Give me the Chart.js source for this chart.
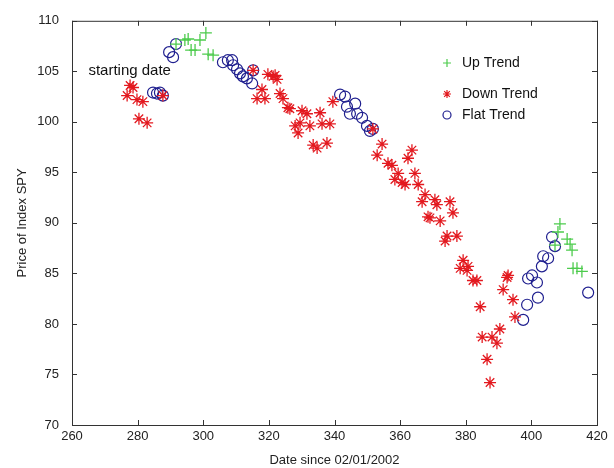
<!DOCTYPE html>
<html>
<head>
<meta charset="utf-8">
<script src="https://cdn.jsdelivr.net/npm/chart.js@4.4.1/dist/chart.umd.min.js"></script>
<style>
  html, body { margin: 0; padding: 0; background: #fff; }
  #wrap { width: 614px; height: 468px; }
</style>
</head>
<body>
<div id="wrap"><canvas id="chart" width="614" height="468"></canvas></div>
<script>
// valores
const upX = [291.7, 294.4, 295.4, 296.3, 297.5, 299.0, 300.8, 301.5, 303.0,
  408.7, 408.1, 407.2, 410.9, 411.8, 412.4, 412.7, 413.9, 415.4];
const upY = [107.7, 108.1, 108.2, 107.1, 107.1, 108.1, 108.8, 106.7, 106.6,
  89.9, 89.1, 87.8, 88.4, 87.9, 87.3, 85.5, 85.5, 85.2];

const downX = [277.7, 278.6, 276.8, 279.8, 281.6, 280.4, 282.9, 287.7,
  315.2, 319.7, 321.3, 322.5, 321.9, 317.9, 316.4, 318.8, 323.4, 324.3, 325.8, 326.4,
  330.1, 331.6, 335.6, 328.0, 328.9, 329.5, 332.5, 336.2, 338.6, 333.5, 334.7, 337.7, 339.5,
  351.7, 354.5, 353.0, 363.6, 362.4, 356.3, 357.5, 359.4, 358.4, 360.6, 361.5, 364.5, 365.5,
  367.6, 366.7, 370.6, 371.2, 375.2, 376.1, 368.5, 369.1, 372.2, 374.3, 373.7, 377.3,
  379.2, 378.3, 380.7, 380.4, 382.2, 383.4, 392.9, 392.6, 391.4, 394.4, 384.4, 395.0,
  390.4, 385.0, 388.0, 389.5, 386.5, 387.4];
const downY = [103.6, 103.4, 102.6, 102.2, 102.0, 100.3, 99.9, 102.6,
  105.1, 104.7, 104.5, 104.2, 104.6, 103.2, 102.3, 102.3, 102.8, 102.3, 101.4, 101.3,
  101.1, 100.8, 100.9, 99.6, 98.9, 99.9, 99.6, 99.8, 99.8, 97.7, 97.4, 97.9, 102.0,
  99.3, 97.8, 96.7, 97.2, 96.4, 95.9, 95.7, 94.9, 94.3, 94.0, 93.8, 94.9, 93.8,
  92.8, 92.1, 92.3, 91.8, 92.1, 91.0, 90.6, 90.5, 90.2, 88.7, 88.2, 88.7,
  86.3, 85.5, 85.7, 85.3, 84.3, 84.3, 84.8, 84.6, 83.4, 82.4, 81.7, 80.7,
  79.5, 78.7, 78.7, 78.1, 76.5, 74.2];

const flatX = [284.7, 285.9, 286.8, 287.7, 289.6, 290.8, 291.7,
  306.0, 307.5, 308.8, 309.1, 310.3, 311.2, 312.1, 313.3, 314.9, 315.2,
  341.7, 343.2, 346.3, 343.8, 344.7, 346.9, 348.4, 349.9, 350.8, 351.7,
  406.3, 407.2, 403.6, 405.1, 403.2, 399.0, 400.2, 401.7, 402.0, 398.7, 397.5, 417.3];
const flatY = [102.9, 102.8, 102.9, 102.6, 106.9, 106.4, 107.7,
  105.9, 106.1, 106.1, 105.6, 105.2, 104.8, 104.5, 104.3, 103.8, 105.1,
  102.7, 102.5, 101.8, 101.5, 100.8, 100.8, 100.4, 99.6, 99.1, 99.3,
  88.6, 87.7, 86.7, 86.5, 85.7, 84.5, 84.8, 84.1, 82.6, 81.9, 80.4, 83.1];

const xTicks = [260, 280, 300, 320, 340, 360, 380, 400, 420];
const yTicks = [70, 75, 80, 85, 90, 95, 100, 105, 110];

const seriesNames = ['Up Trend', 'Down Trend', 'Flat Trend'];
const noteText = 'starting date';
const notePos = [265, 105];

const RED = '#e3191f', GREEN = '#4ccb4c', BLUE = '#1f1f8f';
const FONT = '"Liberation Sans", Arial, sans-serif';

const toPts = (xs, ys) => xs.map((x, i) => ({ x: x, y: ys[i] }));

// marcas hacia dentro y caja, al estilo matlab
const boxPlugin = {
  id: 'box',
  afterDraw(c) {
    const ctx = c.ctx, a = c.chartArea, sx = c.scales.x, sy = c.scales.y;
    ctx.save();
    ctx.strokeStyle = '#333';
    ctx.lineWidth = 1;
    ctx.strokeRect(a.left + 0.5, a.top + 0.5, a.right - a.left, a.bottom - a.top);
    ctx.beginPath();
    xTicks.forEach(v => {
      const p = Math.round(sx.getPixelForValue(v)) + 0.5;
      ctx.moveTo(p, a.bottom); ctx.lineTo(p, a.bottom - 5);
      ctx.moveTo(p, a.top); ctx.lineTo(p, a.top + 5);
    });
    yTicks.forEach(v => {
      const p = Math.round(sy.getPixelForValue(v)) + 0.5;
      ctx.moveTo(a.left, p); ctx.lineTo(a.left + 5, p);
      ctx.moveTo(a.right, p); ctx.lineTo(a.right - 5, p);
    });
    ctx.stroke();

    // texto de anotacion
    ctx.fillStyle = '#111';
    ctx.font = '15px ' + FONT;
    ctx.textBaseline = 'middle';
    ctx.textAlign = 'left';
    ctx.fillText(noteText, sx.getPixelForValue(notePos[0]), sy.getPixelForValue(notePos[1]));

    // leyenda dentro del grafico
    const lx = 447, rows = [63, 94, 115];
    ctx.font = '14px ' + FONT;
    c.data.datasets.forEach((ds, i) => {
      ctx.strokeStyle = ds.borderColor;
      ctx.fillStyle = ds.backgroundColor;
      ctx.lineWidth = 1.2;
      Chart.helpers.drawPoint(ctx, { pointStyle: ds.pointStyle, radius: 4, borderWidth: 1.2 }, lx, rows[i]);
      ctx.fillStyle = '#111';
      ctx.fillText(ds.label, lx + 15, rows[i]);
    });
    ctx.restore();
  }
};

const ctx = document.getElementById('chart').getContext('2d');
new Chart(ctx, {
  type: 'scatter',
  data: {
    datasets: [
      { label: seriesNames[0], data: toPts(upX, upY), pointStyle: 'cross',
        radius: 6, borderColor: GREEN, backgroundColor: GREEN, borderWidth: 1.3 },
      { label: seriesNames[1], data: toPts(downX, downY), pointStyle: 'star',
        radius: 6, borderColor: RED, backgroundColor: RED, borderWidth: 1.3 },
      { label: seriesNames[2], data: toPts(flatX, flatY), pointStyle: 'circle',
        radius: 5.5, borderColor: BLUE, backgroundColor: 'rgba(0,0,0,0)', borderWidth: 1.2 }
    ]
  },
  options: {
    responsive: false,
    animation: false,
    layout: { padding: { top: 13, right: 17, left: 15, bottom: 0 } },
    plugins: {
      legend: { display: false },
      tooltip: { enabled: false }
    },
    scales: {
      x: {
        type: 'linear', min: 260, max: 420,
        afterBuildTicks: s => { s.ticks = xTicks.map(v => ({ value: v })); },
        afterFit: s => { s.height = 43; },
        grid: { display: false, drawTicks: false },
        border: { display: false },
        ticks: { padding: 4, color: '#222', font: { family: FONT, size: 13 } },
        title: { display: true, text: 'Date since 02/01/2002', color: '#222',
          font: { family: FONT, size: 13 }, padding: { top: 2, bottom: 0 } }
      },
      y: {
        type: 'linear', min: 70, max: 110,
        afterBuildTicks: s => { s.ticks = yTicks.map(v => ({ value: v })); },
        afterFit: s => { s.width = 57; },
        grid: { display: false, drawTicks: false },
        border: { display: false },
        ticks: { padding: 13, color: '#222', font: { family: FONT, size: 13 } },
        title: { display: true, text: 'Price of Index SPY', color: '#222',
          font: { family: FONT, size: 13 }, padding: { top: 0, bottom: 0 } }
      }
    }
  },
  plugins: [boxPlugin]
});
</script>
</body>
</html>
